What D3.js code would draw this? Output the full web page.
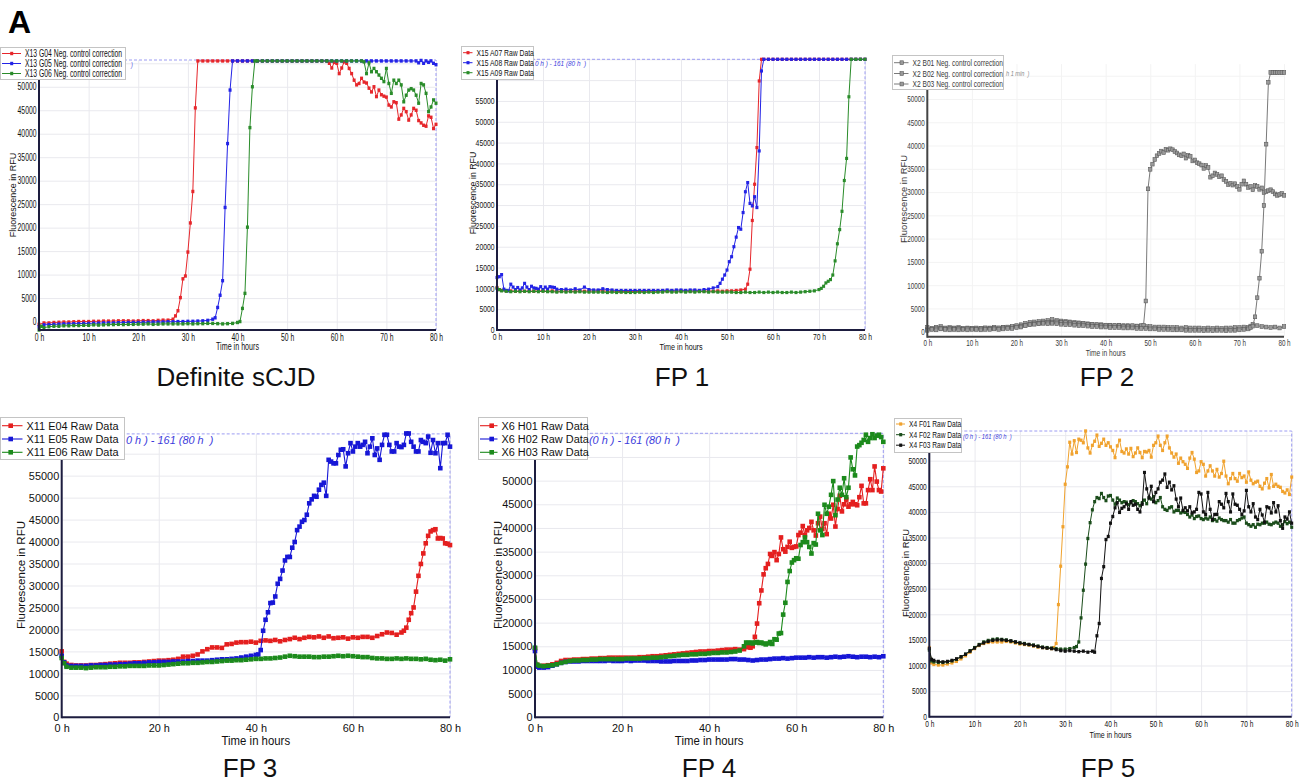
<!DOCTYPE html>
<html>
<head>
<meta charset="utf-8">
<script src="https://cdn.jsdelivr.net/npm/d3@7"></script>
<style>
  body { margin: 0; background: #fff; }
  svg text { font-family: "Liberation Sans", Arial, sans-serif; }
</style>
</head>
<body>
<svg id="fig" width="1303" height="783"></svg>
<script>
// ---------- tick values ----------
var hourTicks10 = [0, 10, 20, 30, 40, 50, 60, 70, 80];
var hourTicks20 = [0, 20, 40, 60, 80];
var rfuTicks = [0, 5000, 10000, 15000, 20000, 25000, 30000, 35000, 40000, 45000, 50000, 55000, 60000, 65000];

// ---------- Definite sCJD (X13, neg. control correction) ----------
var p1Names = ["X13 G04 Neg. control correction", "X13 G05 Neg. control correction", "X13 G06 Neg. control correction"];
var g04 = [[0,-600],[1,-300],[2,-300],[3,-200],[4,-150],[5,-100],[6,-100],[7,-50],[8,0],[9,0],[10,0],[11,50],[12,50],[13,100],[14,100],[15,100],[16,150],[17,150],[18,150],[19,100],[20,150],[21,200],[22,200],[23,150],[24,250],[25,300],[26,300],[27,500],[27.5,1200],[28,2300],[28.5,5100],[29,9100],[29.5,9700],[30,14800],[30.5,21000],[31,27700],[31.5,45500],[32,55500],[33,55500],[34,55500],[35,55500],[36,55500],[37,55500],[38,55500],[39,55500],[40,55500],[41,55500],[42,55500],[43,55500],[44,55500],[45,55500],[46,55500],[47,55500],[48,55500],[49,55500],[50,55500],[51,55500],[52,55500],[53,55500],[54,55500],[55,55500],[56,55500],[57,55500],[58,55500],[58.5,55000],[59,54000],[59.5,55200],[60,55000],[60.5,52800],[61,54000],[61.5,55300],[62,55000],[62.5,53900],[63,52800],[63.5,51400],[64,50400],[64.5,50700],[65,51800],[65.5,51000],[66,50800],[66.5,49700],[67,48900],[67.5,50000],[68,47900],[68.5,49300],[69,48300],[69.5,48000],[70,47800],[70.5,46100],[71,45700],[71.5,46800],[72,46600],[72.5,43100],[73,44000],[73.5,45400],[74,44700],[74.5,42900],[75,44000],[75.5,45400],[76,45000],[76.5,42800],[77,42300],[77.5,41800],[78,41600],[78.5,43800],[79,43500],[79.5,41100],[80,42000]];
var g05 = [[0,-1100],[1,-700],[2,-650],[3,-600],[4,-550],[5,-500],[6,-500],[7,-450],[8,-450],[9,-400],[10,-400],[11,-350],[12,-350],[13,-300],[14,-300],[15,-300],[16,-250],[17,-250],[18,-200],[19,-200],[20,-200],[21,-150],[22,-150],[23,-100],[24,-100],[25,-100],[26,-50],[27,-50],[28,0],[29,0],[30,50],[31,50],[32,100],[33,150],[34,250],[35,500],[35.5,800],[36,3000],[36.5,5600],[37,8700],[37.5,24300],[38,37900],[38.5,49300],[39,55500],[40,55500],[41,55500],[42,55500],[43,55500],[44,55500],[45,55500],[46,55500],[47,55500],[48,55500],[49,55500],[50,55500],[51,55500],[52,55500],[53,55500],[54,55500],[55,55500],[56,55500],[57,55500],[58,55500],[59,55500],[60,55500],[61,55500],[62,55500],[63,55500],[64,55500],[65,55500],[66,55500],[67,55500],[68,55500],[69,55500],[70,55500],[71,55500],[72,55500],[73,55500],[74,55500],[75,55500],[76,55500],[76.5,55100],[77,55600],[77.5,55000],[78,55500],[78.5,55200],[79,55500],[79.5,55000],[80,54700]];
var g06 = [[0,-1800],[0.5,-1000],[1,-1300],[2,-1100],[3,-1000],[4,-1000],[5,-900],[6,-900],[7,-850],[8,-850],[9,-800],[10,-800],[11,-700],[12,-750],[13,-700],[14,-650],[15,-650],[16,-600],[17,-650],[18,-600],[19,-600],[20,-550],[21,-550],[22,-500],[23,-600],[24,-550],[25,-500],[26,-500],[27,-500],[28,-500],[29,-500],[30,-450],[31,-500],[32,-450],[33,-450],[34,-400],[35,-400],[36,-450],[37,-500],[38,-450],[39,-400],[40,-200],[40.5,0],[41,2800],[41.5,6000],[42,20100],[42.5,41300],[43,50000],[43.5,55500],[44,55500],[45,55500],[46,55500],[47,55500],[48,55500],[49,55500],[50,55500],[51,55500],[52,55500],[53,55500],[54,55500],[55,55500],[56,55500],[57,55500],[58,55500],[59,55500],[60,55500],[61,55500],[62,55500],[63,55500],[64,55500],[65,55500],[65.5,55300],[66,52800],[66.5,55100],[67,53200],[67.5,53900],[68,53200],[68.5,52500],[69,51800],[69.5,51100],[70,53900],[70.5,50700],[71,48600],[71.5,51400],[72,50700],[72.5,51400],[73,50400],[73.5,46800],[74,48200],[74.5,49300],[75,49600],[75.5,49300],[76,48200],[76.5,46500],[77,50700],[77.5,50400],[78,48600],[78.5,44700],[79,45700],[79.5,47200],[80,46500]];

// ---------- FP 1 (X15 raw data) ----------
var p2Names = ["X15 A07 Raw Data", "X15 A08 Raw Data", "X15 A09 Raw Data"];
var a07 = [[0,10200],[0.5,9700],[1,9500],[2,9400],[3,9400],[4,9300],[5,9400],[6,9300],[7,9400],[8,9300],[9,9400],[10,9400],[11,9300],[12,9400],[13,9300],[14,9300],[15,9400],[16,9300],[17,9300],[18,9400],[19,9300],[20,9400],[21,9300],[22,9400],[23,9400],[24,9300],[25,9300],[26,9300],[27,9200],[28,9300],[29,9200],[30,9300],[31,9200],[32,9300],[33,9300],[34,9300],[35,9300],[36,9400],[37,9300],[38,9400],[39,9300],[40,9400],[41,9400],[42,9300],[43,9400],[44,9300],[45,9300],[46,9400],[47,9300],[48,9400],[49,9300],[50,9400],[51,9400],[52,9500],[53,9600],[54,9800],[54.5,11000],[55,14600],[55.5,26300],[56,35000],[56.5,43800],[57,59800],[57.5,65000],[58,65000],[59,65000],[60,65000],[61,65000],[62,65000],[63,65000],[64,65000],[65,65000],[66,65000],[67,65000],[68,65000],[69,65000],[70,65000],[71,65000],[72,65000],[73,65000],[74,65000],[75,65000],[76,65000],[77,65000],[78,65000],[79,65000],[80,65000]];
var a08 = [[0,12600],[0.5,12800],[1,13300],[1.5,9800],[2,9500],[2.5,9400],[3,11000],[3.5,10300],[4,9700],[4.5,10200],[5,9600],[5.5,10100],[6,11200],[6.5,10300],[7,9700],[7.5,10500],[8,10100],[8.5,10000],[9,9800],[9.5,10400],[10,9700],[10.5,10300],[11,9800],[11.5,10400],[12,10300],[12.5,10200],[13,9800],[14,9700],[15,9800],[16,9600],[17,9900],[18,9600],[19,10300],[20,9700],[21,9600],[22,9600],[23,9900],[24,9700],[25,9600],[26,9500],[27,9500],[28,9500],[29,9500],[30,9500],[31,9500],[32,9500],[33,9500],[34,9500],[35,9500],[36,9500],[37,9600],[38,9500],[39,9600],[40,9600],[41,9500],[42,9600],[43,9600],[44,9500],[45,9700],[46,9800],[47,10100],[48,10400],[48.5,11200],[49,12200],[49.5,13200],[50,14400],[50.5,16400],[51,17600],[51.5,20000],[52,22300],[52.5,24600],[53,24200],[53.5,28200],[54,33200],[54.5,35400],[55,30400],[55.5,29800],[56,32000],[56.5,29400],[57,43000],[57.5,62200],[58,65000],[59,65000],[60,65000],[61,65000],[62,65000],[63,65000],[64,65000],[65,65000],[66,65000],[67,65000],[68,65000],[69,65000],[70,65000],[71,65000],[72,65000],[73,65000],[74,65000],[75,65000],[76,65000],[77,65000],[78,65000],[79,65000],[80,65000]];
var a09 = [[0,10000],[0.5,9700],[1,9400],[2,9300],[3,9200],[4,9300],[5,9200],[6,9300],[7,9200],[8,9300],[9,9200],[10,9300],[11,9200],[12,9200],[13,9100],[14,9200],[15,9100],[16,9200],[17,9100],[18,9200],[19,9100],[20,9100],[21,9100],[22,9100],[23,9100],[24,9000],[25,9100],[26,9000],[27,9100],[28,9000],[29,9000],[30,9000],[31,9100],[32,9000],[33,9100],[34,9000],[35,9100],[36,9100],[37,9200],[38,9100],[39,9100],[40,9200],[41,9100],[42,9200],[43,9100],[44,9200],[45,9200],[46,9100],[47,9200],[48,9100],[49,9100],[50,9100],[51,9100],[52,9000],[53,9000],[54,9100],[55,9000],[56,9000],[57,9100],[58,9000],[59,9100],[60,9000],[61,9100],[62,9000],[63,9000],[64,9100],[65,9000],[66,9100],[67,9200],[68,9300],[69,9400],[70,9700],[70.5,10000],[71,10500],[71.5,11300],[72,11700],[72.5,12100],[73,13200],[73.5,16600],[74,20700],[74.5,24100],[75,28500],[75.5,35900],[76,41200],[76.5,56000],[77,65000],[78,65000],[79,65000],[80,65000]];

// ---------- FP 2 (X2, neg. control correction) ----------
var p3Names = ["X2 B01 Neg. control correction", "X2 B02 Neg. control correction", "X2 B03 Neg. control correction"];
var b01 = [[0,500],[1,700],[2,900],[3,1100],[4,800],[5,900],[6,800],[7,900],[8,700],[9,800],[10,700],[11,800],[12,700],[13,800],[14,800],[15,900],[16,800],[17,900],[18,900],[19,1000],[20,1200],[21,1500],[22,1800],[23,2000],[24,2100],[25,2200],[26,2300],[27,2400],[28,2600],[29,2400],[30,2300],[31,2200],[32,2100],[33,2000],[34,1900],[35,1800],[36,1700],[37,1600],[38,1500],[39,1500],[40,1400],[41,1400],[42,1300],[43,1400],[44,1300],[45,1300],[46,1200],[47,1200],[48,1200],[49,1100],[50,1100],[51,1000],[52,1000],[53,1000],[54,900],[55,900],[56,900],[57,800],[58,900],[59,800],[60,800],[61,800],[62,700],[63,800],[64,700],[65,800],[66,700],[67,800],[68,800],[69,900],[70,900],[71,1000],[72,900],[72.5,1200],[73,1600],[74,1300],[75,1100],[76,1000],[77,900],[78,1000],[79,800],[80,1100]];
var b02 = [[0,900],[1,600],[2,800],[3,700],[4,600],[5,700],[6,600],[7,700],[8,600],[9,700],[10,700],[11,600],[12,700],[13,800],[14,700],[15,800],[16,800],[17,900],[18,1000],[19,1100],[20,1300],[21,1200],[22,1400],[23,1600],[24,1700],[25,1800],[26,1900],[27,2000],[28,2000],[29,2100],[30,2000],[31,2000],[32,1900],[33,1800],[34,1700],[35,1700],[36,1600],[37,1500],[38,1500],[39,1400],[40,1400],[41,1300],[42,1300],[43,1300],[44,1200],[45,1200],[46,1300],[47,1200],[48,1300],[48.5,1400],[49,6600],[49.5,30700],[50,34900],[50.5,36000],[51,37000],[51.5,37800],[52,38300],[52.5,38800],[53,38500],[53.5,39200],[54,39000],[54.5,39300],[55,39100],[55.5,38700],[56,38400],[56.5,38000],[57,37800],[57.5,38200],[58,37300],[58.5,37900],[59,37700],[59.5,36700],[60,36900],[60.5,36300],[61,36100],[61.5,35800],[62,35100],[62.5,35700],[63,35300],[63.5,33200],[64,33500],[64.5,34100],[65,33800],[65.5,33300],[66,33500],[66.5,32700],[67,32300],[67.5,31600],[68,31900],[68.5,31500],[69,31800],[69.5,31200],[70,30600],[70.5,31700],[71,32400],[71.5,31700],[72,31000],[72.5,31200],[73,30500],[73.5,31400],[74,31200],[74.5,30600],[75,30900],[75.5,29900],[76,30100],[76.5,30300],[77,30500],[77.5,30100],[78,29600],[78.5,29300],[79,29500],[79.5,29700],[80,29300]];
var b03 = [[0,300],[1,500],[2,400],[3,600],[4,500],[5,400],[6,500],[7,400],[8,500],[9,400],[10,500],[11,500],[12,400],[13,500],[14,500],[15,600],[16,500],[17,600],[18,700],[19,700],[20,900],[21,1000],[22,1300],[23,1500],[24,1600],[25,1700],[26,1800],[27,1700],[28,1800],[29,1700],[30,1600],[31,1500],[32,1500],[33,1400],[34,1300],[35,1300],[36,1200],[37,1100],[38,1100],[39,1000],[40,1000],[41,900],[42,900],[43,900],[44,800],[45,800],[46,800],[47,700],[48,700],[49,700],[50,600],[51,600],[52,500],[53,500],[54,500],[55,400],[56,400],[57,400],[58,300],[59,300],[60,300],[61,300],[62,200],[63,300],[64,200],[65,300],[66,300],[67,200],[68,300],[69,300],[70,400],[71,500],[72,600],[72.5,900],[73,1200],[73.5,3200],[74,7300],[74.5,11500],[75,17300],[75.5,27100],[76,40300],[76.5,53600],[77,55700],[77.5,55700],[78,55700],[78.5,55700],[79,55700],[79.5,55700],[80,55700]];

// ---------- FP 3 (X11 raw data) ----------
var p4Names = ["X11 E04 Raw Data", "X11 E05 Raw Data", "X11 E06 Raw Data"];
var e04 = [[0,15000],[0.5,12600],[1,12200],[2,11900],[3,11800],[4,11800],[5,11800],[6,11900],[7,11900],[8,12000],[9,12100],[10,12200],[11,12300],[12,12400],[13,12400],[14,12400],[15,12500],[16,12500],[17,12600],[18,12700],[19,12800],[20,12900],[21,12900],[22,13000],[23,13100],[24,13300],[25,13800],[26,13800],[27,14000],[28,14300],[29,15000],[30,15500],[31,15900],[32,15900],[33,15800],[34,16600],[35,16700],[36,17000],[37,17100],[38,17100],[39,17200],[40,17000],[41,17400],[42,17500],[43,17400],[44,17600],[45,17300],[46,17600],[47,17800],[48,18100],[49,17800],[50,18100],[51,18300],[52,18200],[53,18400],[54,18100],[55,18400],[56,18000],[57,18100],[58,18200],[59,17900],[60,18200],[61,18100],[62,18300],[63,18300],[64,18100],[65,18500],[66,18900],[67,19300],[68,19200],[69,18800],[70,19300],[70.5,19700],[71,20400],[71.5,22200],[72,23700],[72.5,25000],[73,28600],[73.5,32200],[74,34900],[74.5,37300],[75,39600],[75.5,41300],[76,42300],[76.5,42600],[77,42800],[77.5,40700],[78,40800],[78.5,40700],[79,39600],[79.5,39500],[80,39200]];
var e05 = [[0,14000],[0.5,12500],[1,11800],[2,11700],[3,11700],[4,11700],[5,11700],[6,11800],[7,11800],[8,11900],[9,11900],[10,12000],[11,12000],[12,12100],[13,12100],[14,12200],[15,12300],[16,12300],[17,12400],[18,12500],[19,12500],[20,12600],[21,12600],[22,12600],[23,12700],[24,12700],[25,12700],[26,12800],[27,12800],[28,12900],[29,12900],[30,12900],[31,13000],[32,13100],[33,13200],[34,13200],[35,13300],[36,13400],[37,13600],[38,13800],[39,14000],[40,14200],[40.5,14300],[41,15300],[41.5,19700],[42,22200],[42.5,23900],[43,26000],[43.5,26100],[44,27500],[44.5,30400],[45,31500],[45.5,33400],[46,35700],[46.5,36500],[47,36500],[47.5,38600],[48,39900],[48.5,42600],[49,43400],[49.5,44500],[50,44900],[50.5,46100],[51,48700],[51.5,49600],[52,50400],[52.5,50200],[53,51800],[53.5,52900],[54,53400],[54.5,50400],[55,58600],[55.5,58200],[56,57800],[56.5,57800],[57,59700],[57.5,60900],[58,61000],[58.5,57100],[59,60100],[59.5,62400],[60,60500],[60.5,61600],[61,62400],[61.5,61600],[62,62000],[62.5,62700],[63,60100],[63.5,61600],[64,63500],[64.5,59700],[65,61200],[65.5,58600],[66,62000],[66.5,64300],[67,64300],[67.5,62000],[68,60500],[68.5,60500],[69,62400],[69.5,61600],[70,61500],[70.5,62000],[71,64600],[71.5,64600],[72,62700],[72.5,61600],[73,60500],[73.5,60500],[74,63100],[74.5,62700],[75,62400],[75.5,63900],[76,60200],[76.5,63100],[77,60100],[77.5,62400],[78,56700],[78.5,62400],[79,62400],[79.5,64300],[80,61600]];
var e06 = [[0,13500],[0.5,12300],[1,11500],[2,11300],[3,11300],[4,11300],[5,11200],[6,11300],[7,11400],[8,11400],[9,11400],[10,11500],[11,11500],[12,11600],[13,11600],[14,11700],[15,11700],[16,11700],[17,11700],[18,11800],[19,11800],[20,11800],[21,11900],[22,12000],[23,12100],[24,12200],[25,12300],[26,12300],[27,12400],[28,12400],[29,12500],[30,12600],[31,12600],[32,12700],[33,12800],[34,12900],[35,12900],[36,13000],[37,13000],[38,13100],[39,13200],[40,13300],[41,13300],[42,13400],[43,13400],[44,13500],[45,13600],[46,13800],[47,14000],[48,13900],[49,13800],[50,13800],[51,13800],[52,13700],[53,13700],[54,13800],[55,13800],[56,13900],[57,14000],[58,13900],[59,14000],[60,13900],[61,13800],[62,13700],[63,13700],[64,13500],[65,13400],[66,13400],[67,13300],[68,13300],[69,13400],[70,13300],[71,13400],[72,13300],[73,13300],[74,13200],[75,13300],[76,13100],[77,13000],[78,13100],[79,12900],[80,13200]];

// ---------- FP 4 (X6 raw data) ----------
var p5Names = ["X6 H01 Raw Data", "X6 H02 Raw Data", "X6 H03 Raw Data"];
var h01 = [[0,14500],[0.5,11100],[1,10800],[2,10900],[3,11000],[4,11200],[5,11500],[6,11900],[7,12100],[8,12100],[9,12200],[10,12200],[11,12300],[12,12300],[13,12400],[14,12400],[15,12500],[16,12500],[17,12600],[18,12600],[19,12600],[20,12600],[21,12600],[22,12600],[23,12600],[24,12700],[25,12700],[26,12800],[27,12900],[28,12900],[29,13000],[30,13100],[31,13200],[32,13300],[33,13400],[34,13500],[35,13600],[36,13700],[37,13800],[38,13900],[39,13900],[40,14000],[41,14000],[42,14100],[43,14200],[44,14300],[45,14300],[46,14400],[47,14300],[48,14400],[49,14800],[49.5,14700],[50,15000],[50.5,17000],[51,19800],[51.5,24100],[52,26800],[52.5,30200],[53,31500],[53.5,32400],[54,34500],[54.5,34100],[55,34900],[55.5,33200],[56,34500],[56.5,38000],[57,35500],[57.5,35000],[58,36000],[58.5,37100],[59,35800],[59.5,36000],[60,36100],[60.5,38500],[61,39000],[61.5,40400],[62,38500],[62.5,39500],[63,40000],[63.5,41300],[64,39500],[64.5,38400],[65,41000],[65.5,42400],[66,39800],[66.5,41000],[67,38700],[67.5,43000],[68,42000],[68.5,44900],[69,40300],[69.5,44000],[70,46800],[70.5,43500],[71,45000],[71.5,46000],[72,44500],[72.5,45000],[73,45500],[73.5,45000],[74,44800],[74.5,46500],[75,48900],[75.5,45200],[76,45200],[76.5,48000],[77,50300],[77.5,48000],[78,53000],[78.5,49800],[79,48000],[79.5,47700],[80,52600]];
var h02 = [[0,14000],[0.5,10700],[1,10500],[2,10500],[3,10600],[4,10900],[5,11200],[6,11500],[7,11700],[8,11800],[9,11800],[10,11800],[11,11900],[12,11900],[13,11900],[14,11900],[15,11900],[16,11900],[17,12000],[18,11900],[19,11900],[20,11900],[21,12000],[22,11900],[23,12000],[24,12000],[25,12000],[26,11900],[27,11900],[28,11900],[29,11800],[30,11800],[31,11800],[32,11900],[33,11900],[34,11900],[35,11900],[36,12000],[37,12000],[38,12100],[39,12100],[40,12200],[41,12200],[42,12200],[43,12200],[44,12200],[45,12300],[46,12300],[47,12200],[48,12200],[49,12100],[50,12000],[51,12100],[52,12200],[53,12200],[54,12300],[55,12400],[56,12400],[57,12500],[58,12400],[59,12500],[60,12600],[61,12600],[62,12600],[63,12700],[64,12600],[65,12700],[66,12700],[67,12600],[68,12700],[69,12800],[70,12700],[71,12800],[72,12900],[73,12800],[74,12700],[75,12800],[76,12800],[77,12700],[78,12800],[79,12700],[80,12900]];
var h03 = [[0,14700],[0.5,11100],[1,10900],[2,10800],[3,10900],[4,11000],[5,11200],[6,11500],[7,11700],[8,11900],[9,12000],[10,12000],[11,12100],[12,12100],[13,12200],[14,12200],[15,12300],[16,12300],[17,12300],[18,12300],[19,12300],[20,12300],[21,12400],[22,12400],[23,12400],[24,12400],[25,12500],[26,12500],[27,12600],[28,12600],[29,12700],[30,12800],[31,12900],[32,13000],[33,13100],[34,13200],[35,13200],[36,13300],[37,13300],[38,13400],[39,13400],[40,13500],[41,13600],[42,13600],[43,13700],[44,13700],[45,13800],[46,13900],[47,14100],[48,15000],[48.5,15800],[49,15700],[49.5,15800],[50,15600],[50.5,15800],[51,15900],[51.5,15700],[52,15800],[52.5,15600],[53,15400],[53.5,15600],[54,15900],[54.5,15500],[55,16500],[55.5,16400],[56,17700],[56.5,17800],[57,21700],[57.5,24200],[58,28600],[58.5,30900],[59,32700],[59.5,33200],[60,33600],[60.5,33500],[61,36400],[61.5,37000],[62,38000],[62.5,37000],[63,36000],[63.5,34600],[64,36800],[64.5,36500],[65,43000],[65.5,39500],[66,38500],[66.5,44900],[67,43000],[67.5,44500],[68,47000],[68.5,49900],[69,42700],[69.5,46000],[70,48500],[70.5,47000],[71,50500],[71.5,46500],[72,48500],[72.5,54900],[73,52400],[73.5,51100],[74,57200],[74.5,57500],[75,58000],[75.5,58600],[76,59700],[76.5,58200],[77,59000],[77.5,59800],[78,59000],[78.5,59500],[79,59700],[79.5,59200],[80,58200]];

// ---------- FP 5 (X4 raw data) ----------
var p6Names = ["X4 F01 Raw Data", "X4 F02 Raw Data", "X4 F03 Raw Data"];
var f01 = [[0,13500],[0.5,10500],[1,10200],[2,10100],[3,10100],[4,10300],[5,10500],[6,10800],[7,11300],[8,11900],[9,12600],[10,13300],[11,13900],[12,14300],[13,14500],[14,14600],[15,14600],[16,14600],[17,14700],[18,14600],[19,14400],[20,14200],[21,14100],[22,14000],[23,13800],[24,13600],[25,13500],[26,13400],[27,13300],[27.5,13500],[28,14300],[28.5,21900],[29,29400],[29.5,37100],[30,45400],[30.5,48800],[31,53600],[31.5,51300],[32,53900],[32.5,51600],[33,54200],[33.5,54000],[34,53500],[34.5,55800],[35,52500],[35.5,51500],[36,53000],[36.5,53800],[37,55000],[37.5,52800],[38,53400],[38.5,54200],[39,53000],[39.5,53500],[40,52700],[40.5,52000],[41,50600],[41.5,52900],[42,54000],[42.5,51800],[43,51500],[43.5,52300],[44,51300],[44.5,52400],[45,50800],[45.5,51500],[46,52500],[46.5,51600],[47,50600],[47.5,51800],[48,51700],[48.5,52000],[49,50700],[49.5,53000],[50,53500],[50.5,54800],[51,53000],[51.5,52000],[52,53500],[52.5,54800],[53,52500],[53.5,51500],[54,50700],[54.5,51300],[55,49500],[55.5,50500],[56,49800],[56.5,49300],[57,48500],[57.5,50500],[58,51600],[58.5,50300],[59,47700],[59.5,48000],[60,49800],[60.5,49300],[61,47000],[61.5,48000],[62,49000],[62.5,48000],[63,47000],[63.5,48300],[64,46800],[64.5,47500],[65,49900],[65.5,47000],[66,45500],[66.5,46500],[67,47500],[67.5,46500],[68,46000],[68.5,47500],[69,46700],[69.5,47000],[70,45800],[70.5,47800],[71,46200],[71.5,45500],[72,45800],[72.5,46000],[73,45000],[73.5,44500],[74,45600],[74.5,46500],[75,44700],[75.5,47300],[76,45000],[76.5,45400],[77,45000],[77.5,44800],[78,44000],[78.5,43700],[79,44300],[79.5,43400],[80,46800]];
var f02 = [[0,13000],[0.5,10900],[1,10700],[2,10600],[3,10600],[4,10700],[5,10900],[6,11200],[7,11700],[8,12200],[9,12900],[10,13500],[11,14100],[12,14600],[13,14900],[14,15100],[15,15200],[16,15100],[17,15000],[18,14800],[19,14600],[20,14400],[21,14300],[22,14100],[23,14000],[24,13800],[25,13600],[26,13500],[27,13400],[28,13300],[29,13200],[30,13200],[31,13300],[32,13500],[32.5,13700],[33,14600],[33.5,19300],[34,24700],[34.5,29800],[35,34800],[35.5,37900],[36,40400],[36.5,42000],[37,42800],[37.5,42600],[38,43600],[38.5,42800],[39,42200],[39.5,43100],[40,43200],[40.5,42300],[41,41500],[41.5,42700],[42,42300],[42.5,41800],[43,42000],[43.5,41900],[44,41400],[44.5,41800],[45,42200],[45.5,42000],[46,41600],[46.5,41200],[47,41800],[47.5,42300],[48,41600],[48.5,42800],[49,42500],[49.5,43000],[50,41800],[50.5,42200],[51,42800],[51.5,41000],[52,40500],[52.5,40300],[53,40800],[53.5,41000],[54,40000],[54.5,40300],[55,40300],[55.5,39800],[56,40000],[56.5,39900],[57,39500],[57.5,39000],[58,39400],[58.5,38700],[59,39100],[59.5,39200],[60,38700],[60.5,38500],[61,38800],[61.5,38600],[62,39000],[62.5,38300],[63,38500],[63.5,38200],[64,38800],[64.5,38500],[65,38300],[65.5,38300],[66,38000],[66.5,38500],[67,37800],[67.5,37800],[68,38300],[68.5,38500],[69,38800],[69.5,39000],[70,37800],[70.5,37500],[71,37200],[71.5,37500],[72,37000],[72.5,37600],[73,37500],[73.5,37800],[74,37800],[74.5,38000],[75,37600],[75.5,37500],[76,37800],[76.5,38000],[77,37800],[77.5,37200],[78,37500],[78.5,38100],[79,37700],[79.5,38000],[80,37000]];
var f03 = [[0,13300],[0.5,11200],[1,11000],[2,10800],[3,10700],[4,10800],[5,11000],[6,11300],[7,11700],[8,12200],[9,12800],[10,13400],[11,14000],[12,14400],[13,14700],[14,14900],[15,15000],[16,15000],[17,14900],[18,14800],[19,14600],[20,14400],[21,14200],[22,14100],[23,13900],[24,13700],[25,13500],[26,13400],[27,13300],[28,13100],[29,12900],[30,12800],[31,12900],[32,12800],[33,12700],[34,12800],[35,12600],[36,12800],[36.5,12600],[37,15800],[37.5,18200],[38,27000],[38.5,29300],[39,34600],[39.5,35200],[40,37800],[40.5,39100],[41,40800],[41.5,41800],[42,39900],[42.5,40700],[43,41000],[43.5,41600],[44,40500],[44.5,42000],[45,41300],[45.5,41500],[46,40500],[46.5,40000],[47,41500],[47.5,47700],[48,44500],[48.5,42700],[49,45000],[49.5,42000],[50,43800],[50.5,44500],[51,45800],[51.5,46200],[52,47400],[52.5,44800],[53,45800],[53.5,44300],[54,45100],[54.5,42500],[55,41000],[55.5,42700],[56,40300],[56.5,40800],[57,40200],[57.5,41000],[58,39800],[58.5,40000],[59,40500],[59.5,43800],[60,43500],[60.5,40000],[61,39500],[61.5,43800],[62,40500],[62.5,38500],[63,39500],[63.5,39500],[64,42000],[64.5,41500],[65,40800],[65.5,43600],[66,42000],[66.5,40000],[67,43500],[67.5,41500],[68,41300],[68.5,40500],[69,39500],[69.5,40200],[70,44200],[70.5,41000],[71,40000],[71.5,41600],[72,39000],[72.5,38500],[73,40500],[73.5,39400],[74,38000],[74.5,41000],[75,40800],[75.5,39800],[76,41800],[76.5,40000],[77,41200],[77.5,38300],[78,36800],[78.5,39000],[79,38600],[79.5,40000],[80,37800]];

// ---------- layout of the six panels ----------
var svg = d3.select("#fig");

svg.append("text").attr("x", 8).attr("y", 33)
    .attr("font-size", 32).attr("font-weight", "bold").text("A");

var rgb3 = ["#e6262b", "#2323e6", "#2a8c2a"];
var rgb3b = ["#e41f1f", "#1616d6", "#1c8a1c"];
var grey3 = ["#7a7a7a", "#7a7a7a", "#7a7a7a"];

// the cycle-range note sits behind each legend, only its tail shows
var panels = [
    { title: "Definite sCJD", tx: 236, ty: 386, names: p1Names, series: [g04, g05, g06], colors: rgb3,
      x0: 39, x1: 436, yTop: 60, yBot: 330, yDom: [-1800, 55700], xTicks: hourTicks10,
      fs: 10, k: 0.68, mw: 3, mh: 3.4, lw: 1, xPad: 4, xlabY: 350.5, ytX: 13, ytY: 195, ytFs: 9,
      leg: { x: 0, y: 47, w: 125, h: 32, rows: [53.5, 63.5, 73.5], mx: 11.7, tx: 25, fs: 10 },
      cyc: { x: 131, y: 67, fs: 8, text: ")" } },
    { title: "FP 1", tx: 682, ty: 386, names: p2Names, series: [a07, a08, a09], colors: rgb3,
      x0: 497, x1: 865, yTop: 59.3, yBot: 330, yDom: [0, 65000], xTicks: hourTicks10,
      fs: 8.5, k: 0.8, mw: 3, mh: 3.2, lw: 1, xPad: 4, xlabY: 350, ytX: 473, ytY: 193, ytFs: 8.8,
      leg: { x: 461, y: 46, w: 72, h: 33, rows: [52.7, 62.7, 72.7], mx: 468, tx: 476.5, fs: 8.5 },
      cyc: { x: 535, y: 66.5, fs: 8, text: "0 h ) - 161 (80 h  )" } },
    { title: "FP 2", tx: 1107, ty: 386, names: p3Names, series: [b01, b02, b03], colors: grey3,
      grey: true,
      x0: 927.3, x1: 1284, yTop: 64.1, yBot: 336.7, yDom: [-1075, 57500], xTicks: hourTicks10,
      fs: 9, k: 0.7, mw: 3.4, mh: 3.8, lw: 1, xPad: 3, xlabY: 356, ytX: 903.5, ytY: 199, ytFs: 9.4,
      leg: { x: 892, y: 55, w: 111, h: 34, rows: [62.7, 73.5, 84], mx: 901.7, tx: 912.5, fs: 9.5 },
      cyc: { x: 1006, y: 76.5, fs: 8, text: "h 1 min  )" } },
    { title: "FP 3", tx: 250, ty: 777, names: p4Names, series: [e04, e05, e06], colors: rgb3b,
      x0: 61.7, x1: 450, yTop: 433.9, yBot: 717.3, yDom: [0, 64500], xTicks: hourTicks20,
      fs: 11.5, k: 0.95, mw: 4.6, mh: 4.6, lw: 1.1, xPad: 6.5, xlabY: 745, ytX: 20.7, ytY: 575, ytFs: 11.5,
      leg: { x: 0, y: 417, w: 124, h: 42, rows: [425.7, 439, 452.3], mx: 10.7, tx: 26.5, fs: 11.5 },
      cyc: { x: 126, y: 444, fs: 11.5, text: "0 h ) - 161 (80 h  )" } },
    { title: "FP 4", tx: 709, ty: 777, names: p5Names, series: [h01, h02, h03], colors: rgb3b,
      x0: 535, x1: 883.3, yTop: 433.3, yBot: 717.3, yDom: [0, 60000], xTicks: hourTicks20,
      fs: 11.5, k: 0.95, mw: 4.6, mh: 4.6, lw: 1.1, xPad: 6.5, xlabY: 745, ytX: 497.7, ytY: 575, ytFs: 11.5,
      leg: { x: 478, y: 417, w: 109, h: 42, rows: [425.7, 439, 452.3], mx: 491.7, tx: 501.5, fs: 11.5 },
      cyc: { x: 589, y: 444, fs: 11.5, text: "(0 h ) - 161 (80 h  )" } },
    { title: "FP 5", tx: 1108, ty: 777, names: p6Names, series: [f01, f02, f03], colors: ["#f0a22e", "#1b4d1b", "#111111"],
      x0: 929.3, x1: 1291.7, yTop: 431, yBot: 716.7, yDom: [0, 55800], xTicks: hourTicks10,
      fs: 8.5, k: 0.78, mw: 3, mh: 3.3, lw: 1, xPad: 4.5, xlabY: 738, ytX: 906, ytY: 573, ytFs: 9.4,
      leg: { x: 894, y: 418, w: 67, h: 34, rows: [424, 434.7, 445.2], mx: 900.7, tx: 909, fs: 8.5 },
      cyc: { x: 963, y: 439.5, fs: 7.5, text: "(0 h ) - 161 (80 h  )" } }
];

// squash text horizontally the way the scanned panels are squashed
function squeeze(sel, k) {
    if (k >= 1) return;
    sel.each(function () {
        var t = d3.select(this);
        var x0 = +t.attr("x") || 0;
        t.attr("x", x0 / k).attr("transform", "scale(" + k + ",1)");
    });
}

function drawPanel(p) {
    var g = svg.append("g");
    var ink = p.grey ? "#3a3a3a" : "#111";
    var axisCol = p.grey ? "#444" : "#1d1d3f";

    var x = d3.scaleLinear().domain([0, 80]).range([p.x0, p.x1]);
    var y = d3.scaleLinear().domain(p.yDom).range([p.yBot, p.yTop]);
    var yt = rfuTicks.filter(function (v) { return v >= p.yDom[0] && v <= p.yDom[1]; });
    // labels that would sit under the legend box are not shown
    var ytLab = yt.filter(function (v) { return y(v) > p.leg.y + p.leg.h + 3; });

    // grid
    var gy = g.append("g").attr("transform", "translate(" + p.x0 + ",0)")
        .call(d3.axisLeft(y).tickValues(yt).tickSize(-(p.x1 - p.x0)).tickFormat(""));
    gy.select(".domain").remove();
    gy.selectAll("line").attr("stroke", p.grey ? "#f3f3f3" : "#e9e9ee");
    var gx = g.append("g").attr("transform", "translate(0," + p.yBot + ")")
        .call(d3.axisBottom(x).tickValues(p.xTicks).tickSize(-(p.yBot - p.yTop)).tickFormat(""));
    gx.select(".domain").remove();
    gx.selectAll("line").attr("stroke", p.grey ? "#f3f3f3" : "#e9e9ee");

    // dashed frame (top and right)
    if (!p.grey) {
        g.append("path")
            .attr("d", "M" + p.x0 + "," + p.yTop + "H" + p.x1 + "V" + p.yBot)
            .attr("fill", "none").attr("stroke", "#9c9cf2").attr("stroke-dasharray", "3,2");
    }

    // series
    var line = d3.line().x(function (d) { return x(d[0]); }).y(function (d) { return y(d[1]); });
    p.series.forEach(function (s, i) {
        var col = p.colors[i];
        g.append("path").datum(s).attr("d", line)
            .attr("fill", "none").attr("stroke", col).attr("stroke-width", p.lw);
        g.append("g").selectAll("rect").data(s).enter().append("rect")
            .attr("x", function (d) { return x(d[0]) - p.mw / 2; })
            .attr("y", function (d) { return y(d[1]) - p.mh / 2; })
            .attr("width", p.mw).attr("height", p.mh)
            .attr("fill", p.grey ? "#9a9a9a" : col)
            .attr("stroke", p.grey ? "#5a5a5a" : "none").attr("stroke-width", 0.6);
    });

    // axis lines
    g.append("line").attr("x1", p.x0).attr("x2", p.x0).attr("y1", p.yTop).attr("y2", p.yBot + 1)
        .attr("stroke", axisCol).attr("stroke-width", 2);
    g.append("line").attr("x1", p.x0).attr("x2", p.x1).attr("y1", p.yBot).attr("y2", p.yBot)
        .attr("stroke", axisCol).attr("stroke-width", 2);

    // tick labels
    var ly = g.append("g").attr("transform", "translate(" + p.x0 + ",0)")
        .call(d3.axisLeft(y).tickValues(ytLab).tickSize(0).tickPadding(2.5).tickFormat(d3.format("d")));
    ly.select(".domain").remove();
    ly.attr("font-family", null).attr("font-size", null);
    ly.selectAll("text").attr("font-size", p.fs).attr("fill", ink);
    squeeze(ly.selectAll("text"), p.k);

    var lx = g.append("g").attr("transform", "translate(0," + p.yBot + ")")
        .call(d3.axisBottom(x).tickValues(p.xTicks).tickSize(0).tickPadding(p.xPad)
            .tickFormat(function (d) { return d + " h"; }));
    lx.select(".domain").remove();
    lx.attr("font-family", null).attr("font-size", null);
    lx.selectAll("text").attr("font-size", p.fs).attr("fill", ink);
    squeeze(lx.selectAll("text"), p.k);

    // axis titles
    var xt = g.append("text").attr("x", (p.x0 + p.x1) / 2).attr("y", p.xlabY)
        .attr("text-anchor", "middle").attr("font-size", p.fs + 0.5).attr("fill", ink)
        .text("Time in hours");
    squeeze(xt, p.k);
    g.append("text")
        .attr("transform", "translate(" + p.ytX + "," + p.ytY + ") rotate(-90)")
        .attr("text-anchor", "middle").attr("dy", "0.35em")
        .attr("font-size", p.ytFs).attr("fill", ink)
        .text("Fluorescence in RFU");

    // cycle range note (visible tail only)
    var ct = g.append("text").attr("x", p.cyc.x).attr("y", p.cyc.y)
        .attr("font-size", p.cyc.fs)
        .attr("font-style", "italic").attr("fill", p.grey ? "#8a8a8a" : "#3b3bdc")
        .style("white-space", "pre").text(p.cyc.text);
    squeeze(ct, p.k);

    // legend
    var L = p.leg;
    g.append("rect").attr("x", L.x + 0.5).attr("y", L.y + 0.5).attr("width", L.w).attr("height", L.h)
        .attr("fill", "#fff").attr("stroke", "#c4c4c4");
    p.names.forEach(function (n, i) {
        var ry = L.rows[i];
        var col = p.colors[i];
        g.append("line").attr("x1", L.x + 2).attr("x2", L.tx - 4).attr("y1", ry).attr("y2", ry)
            .attr("stroke", col).attr("stroke-width", p.lw);
        g.append("rect").attr("x", L.mx - p.mw / 2).attr("y", ry - p.mh / 2)
            .attr("width", p.mw).attr("height", p.mh)
            .attr("fill", p.grey ? "#9a9a9a" : col)
            .attr("stroke", p.grey ? "#5a5a5a" : "none").attr("stroke-width", 0.6);
        var t = g.append("text").attr("x", L.tx).attr("y", ry).attr("dy", "0.35em")
            .attr("font-size", L.fs).attr("fill", ink).text(n);
        squeeze(t, p.k);
    });

    // panel caption
    svg.append("text").attr("x", p.tx).attr("y", p.ty)
        .attr("text-anchor", "middle").attr("font-size", 26)
        .attr("font-family", "'Open Sans', 'Liberation Sans', sans-serif")
        .attr("fill", "#111").text(p.title);
}

panels.forEach(drawPanel);
</script>
</body>
</html>
